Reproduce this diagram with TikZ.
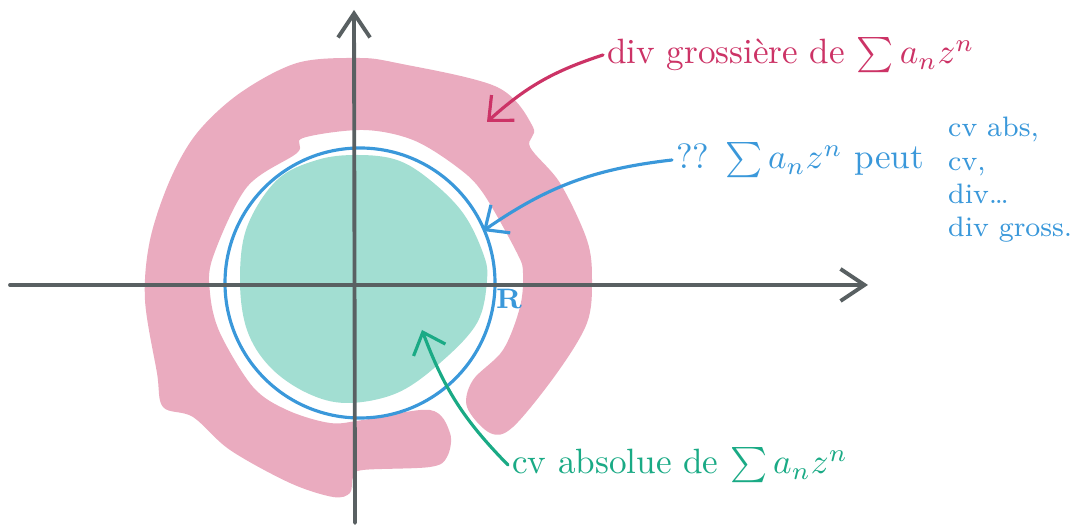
\documentclass[tikz,border=0pt]{standalone}
\usepackage{amsmath,amssymb}
\usepackage{xcolor}
\usepackage{tikz}
\usetikzlibrary{positioning,arrows.meta}
\definecolor{axisgray}{HTML}{596062}
\definecolor{ringpink}{HTML}{EAABBF}
\definecolor{pinkink}{HTML}{CC3366}
\definecolor{discgreen}{HTML}{A2DED2}
\definecolor{greenink}{HTML}{1AAA85}
\definecolor{blueink}{HTML}{3A98DA}

\begin{document}
\begin{tikzpicture}[
x=0.01cm, y=-0.01cm,
axis/.style={axisgray, line width=1.1pt, line cap=round, -{Straight Barb[length=2.4mm, width=3.2mm, line width=1.1pt]}},
note/.style={font=\normalsize, anchor=west, inner sep=1pt},
arrow/.style={line width=0.9pt, line cap=round, -{Straight Barb[length=1.9mm, width=3.4mm, line width=0.9pt]}}
]
\useasboundingbox (0,0) rectangle (1072,525);
% pink ring (divergence)
\fill[ringpink] plot[smooth cycle, tension=0.55] coordinates {
(357,58) (397,63) (497,87) (533,127) (530,147) (560,183) (587,240) (592,280)
(587,323) (557,373) (513,427) (490,433) (467,407) (473,380) (503,350) (520,307)
(523,273) (517,253) (483,193) (457,167) (413,140) (363,130) (303,138) (297,153)
(247,187) (213,257) (210,293) (220,333) (253,387) (287,410) (330,423) (363,420)
(430,410) (450,433) (447,457) (430,467) (363,470) (353,477) (350,493) (333,497)
(290,483) (230,450) (193,417) (163,407) (157,373) (145,300) (150,240) (170,180)
(197,133) (240,93) (297,63)};
% green disc (absolute convergence)
\fill[discgreen] plot[smooth cycle, tension=0.6] coordinates {
(357,155) (317,160) (277,180) (247,227) (240,280) (247,330) (270,367) (307,393)
(347,403) (397,393) (440,363) (477,323) (487,280) (483,253) (463,213) (430,180)
(397,160)};
% circle of radius R
\draw[blueink, line width=0.9pt] (360,283) circle[radius=135];
% axes
\coordinate (xl) at (10,285);
\coordinate (xr) at (868,285);
\coordinate (yb) at (355,523);
\coordinate (yt) at (354,10);
\draw[axis] (xl) -- (xr);
\draw[axis] (yb) -- (yt);
\node[blueink, font=\footnotesize\bfseries] (R) at (509,299) {R};
% labels
\node[note, pinkink] (divg) at (603,55) {div grossière de $\sum a_n z^n$};
\node[note, blueink] (peut) at (672,160) {?? $\sum a_n z^n$ peut};
\node[blueink, font=\footnotesize, align=left, anchor=west, inner sep=1pt] (cases) at (944,180)
  {cv abs,\\cv,\\div\dots\\div gross.};
\node[note, greenink] (cvabs) at (508,465) {cv absolue de $\sum a_n z^n$};
\coordinate (divtip) at (487,122);
\coordinate (circtip) at (483,231);
\coordinate (disctip) at (422,330);
\draw[arrow, pinkink] (divg.west) to[bend right=12] (divtip);
\draw[arrow, blueink] (peut.west) to[bend right=14] (circtip);
\draw[arrow, greenink] (cvabs.west) to[bend left=12] (disctip);
\end{tikzpicture}
\end{document}
